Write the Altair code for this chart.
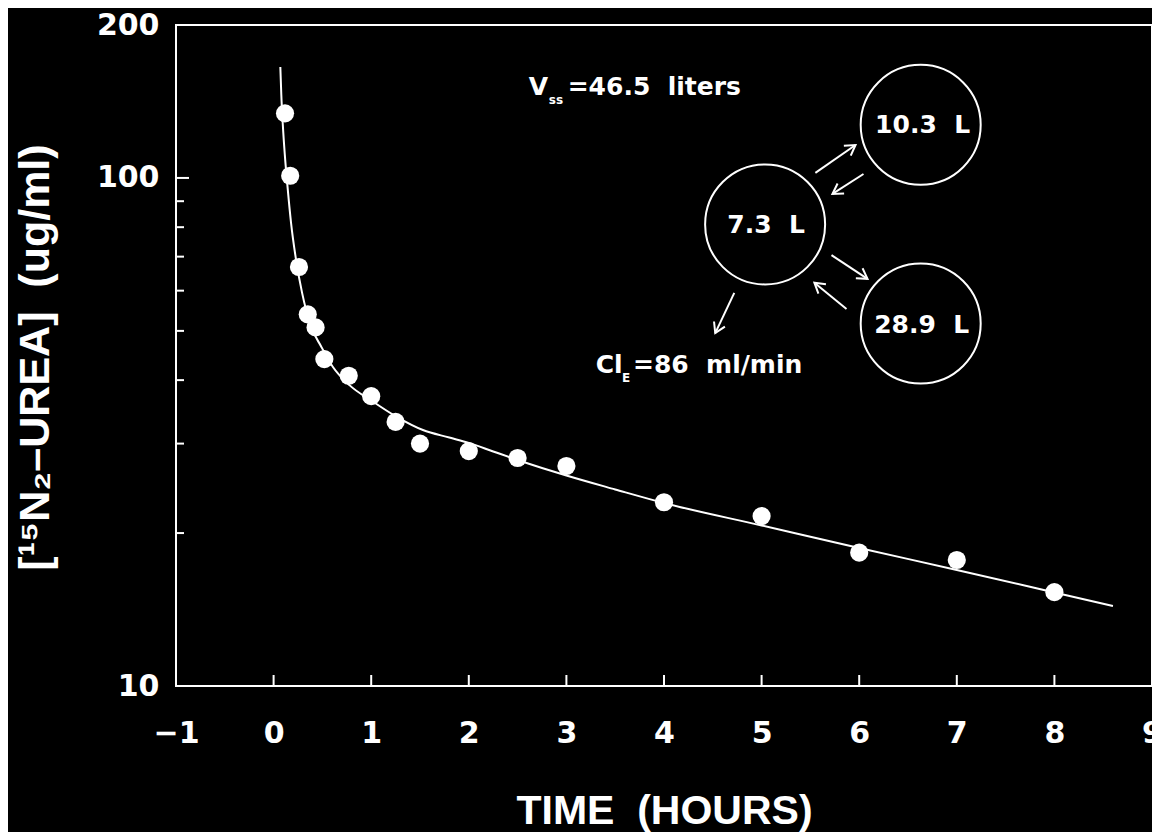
import altair as alt
import pandas as pd

# ---- measured data ----
time_h = [0.117, 0.17, 0.26, 0.35, 0.43, 0.52, 0.77, 1.0, 1.25, 1.5, 2.0, 2.5, 3.0, 4.0, 5.0, 6.0, 7.0, 8.0]
urea = [134, 101, 66.8, 53.9, 50.8, 44.0, 40.8, 37.2, 33.1, 30.0, 29.0, 28.1, 27.1, 23.0, 21.6, 18.3, 17.7, 15.3]

# fitted curve
fit_t = [0.069, 0.079, 0.0945, 0.115, 0.141, 0.179, 0.230, 0.292, 0.384, 0.487, 0.606, 0.777,
         1.016, 1.257, 1.530, 1.80, 2.0, 2.25, 2.5, 2.75, 3.0, 3.5, 4.0, 5.0, 6.0, 7.0, 8.0, 8.6]
fit_c = [165.4, 145.7, 127.2, 111.0, 96.9, 81.5, 69.0, 59.4, 51.0, 46.6, 42.5, 39.1,
         36.3, 33.9, 31.9, 30.84, 30.1, 28.95, 27.85, 26.86, 25.96, 24.37, 22.92, 20.70,
         18.69, 16.92, 15.28, 14.37]

x_tick_vals = [0, 1, 2, 3, 4, 5, 6, 7, 8]
x_label_vals = [-1, 0, 1, 2, 3, 4, 5, 6, 7, 8, 9]
y_label_vals = [10, 100, 200]
y_minor = [20, 30, 40, 50, 60, 70, 80, 90]
y_major = [100]

# compartment diagram (data coordinates)
comp_t = [6.63, 5.036, 6.63]
comp_c = [127.2, 81.0, 51.7]
comp_lbl = ["10.3\u00a0\u00a0L", "7.3\u00a0\u00a0L", "28.9\u00a0\u00a0L"]
comp_lbl_t = [6.65, 5.047, 6.64]
comp_lbl_c = [122.7, 78.0, 49.5]

arr_t = [5.551, 6.044, 5.716, 5.870, 4.720]
arr_c = [102.3, 101.8, 70.5, 55.2, 59.4]
arr_t2 = [5.962, 5.726, 6.085, 5.541, 4.525]
arr_c2 = [116.1, 93.0, 63.3, 62.2, 49.5]
arr_ang = [325, 147, 34, 219, 115]

main_txt = ["V", "=46.5\u00a0\u00a0liters", "Cl", "=86\u00a0\u00a0ml/min"]
main_t = [2.615, 3.013, 3.30, 3.682]
main_c = [145.7, 145.7, 41.3, 41.3]
sub_txt = ["ss", "E"]
sub_t = [2.82, 3.57]
sub_c = [139.9, 39.7]

# ---- chart ----
WHITE = "white"
x_scale = alt.Scale(domain=[-1, 9], nice=False, zero=False)
y_scale = alt.Scale(type="log", domain=[10, 200], nice=False)

x_axis = alt.Axis(values=x_label_vals, format="d", title="TIME\u00a0\u00a0(HOURS)",
                  titleFont="Liberation Sans", titleFontSize=41, titleFontWeight="bold",
                  titleColor=WHITE, titleY=137, titleBaseline="alphabetic",
                  labelFont="DejaVu Sans", labelFontSize=30, labelFontWeight="bold",
                  labelColor=WHITE, labelPadding=32, labelFlush=False, labelOverlap=False,
                  ticks=False, tickSize=0, domain=False, grid=False)
y_axis = alt.Axis(values=y_label_vals, format="d", title="[\u00b9\u2075N\u2082\u2013UREA]\u00a0\u00a0(ug/ml)",
                  titleFont="Liberation Sans", titleFontSize=43, titleFontWeight="bold",
                  titleColor=WHITE, titleAngle=270, titleX=-141, titleY=332,
                  titleBaseline="middle", titleAlign="center",
                  labelFont="DejaVu Sans", labelFontSize=30, labelFontWeight="bold",
                  labelColor=WHITE, labelPadding=17, labelOverlap=False,
                  ticks=False, tickSize=0, domain=False, grid=False)


def X(f):
    return alt.X(f"{f}:Q", scale=x_scale, axis=x_axis)


def Y(f):
    return alt.Y(f"{f}:Q", scale=y_scale, axis=y_axis)


pts = pd.DataFrame({"t": time_h, "c": urea})
fit = pd.DataFrame({"t": fit_t, "c": fit_c})
xt = pd.DataFrame({"t": x_tick_vals})
ymi = pd.DataFrame({"c": y_minor})
yma = pd.DataFrame({"c": y_major})
comp = pd.DataFrame({"t": comp_t, "c": comp_c})
compl = pd.DataFrame({"t": comp_lbl_t, "c": comp_lbl_c, "lbl": comp_lbl})
arr = pd.DataFrame({"t": arr_t, "c": arr_c, "t2": arr_t2, "c2": arr_c2, "ang": arr_ang})
mtxt = pd.DataFrame({"t": main_t, "c": main_c, "lbl": main_txt})
stxt = pd.DataFrame({"t": sub_t, "c": sub_c, "lbl": sub_txt})

line = alt.Chart(fit).mark_line(color=WHITE, strokeWidth=2, interpolate="monotone").encode(x=X("t"), y=Y("c"))
dots = alt.Chart(pts).mark_circle(size=330, color=WHITE, opacity=1).encode(x=X("t"), y=Y("c"))
xticks = alt.Chart(xt).mark_rule(color=WHITE, strokeWidth=2).encode(
    x=X("t"), y=alt.value(661), y2=alt.value(650))
yminor = alt.Chart(ymi).mark_rule(color=WHITE, strokeWidth=2).encode(
    y=Y("c"), x=alt.value(0), x2=alt.value(8))
ymajor = alt.Chart(yma).mark_rule(color=WHITE, strokeWidth=2).encode(
    y=Y("c"), x=alt.value(0), x2=alt.value(13))

circles = alt.Chart(comp).mark_point(shape="circle", size=14400, filled=False, stroke=WHITE,
                                     strokeWidth=2, opacity=1).encode(x=X("t"), y=Y("c"))
clabels = alt.Chart(compl).mark_text(font="DejaVu Sans", fontWeight="bold", fontSize=25, color=WHITE,
                                     align="center", baseline="alphabetic").encode(
    x=X("t"), y=Y("c"), text="lbl:N")
arrows = alt.Chart(arr).mark_rule(color=WHITE, strokeWidth=2).encode(
    x=X("t"), y=Y("c"), x2=alt.X2("t2"), y2=alt.Y2("c2"))
heads = alt.Chart(arr).mark_point(shape="M -1,-0.6 L 0,0 L -1,0.6", size=400, filled=False,
                                  stroke=WHITE, strokeWidth=2, opacity=1).encode(
    x=X("t2"), y=Y("c2"), angle=alt.Angle("ang:Q", scale=None))
mtext = alt.Chart(mtxt).mark_text(font="DejaVu Sans", fontWeight="bold", fontSize=25, color=WHITE,
                                  align="left", baseline="alphabetic").encode(
    x=X("t"), y=Y("c"), text="lbl:N")
stext = alt.Chart(stxt).mark_text(font="DejaVu Sans", fontWeight="bold", fontSize=12, color=WHITE,
                                  align="left", baseline="alphabetic").encode(
    x=X("t"), y=Y("c"), text="lbl:N")

chart = alt.layer(line, dots, xticks, yminor, ymajor, circles, clabels, arrows, heads, mtext, stext).properties(
    width=976, height=661,
    autosize=alt.AutoSizeParams(type="none"),
    padding={"left": 168, "top": 17, "right": 0, "bottom": 146},
    background="black",
).configure_view(stroke=WHITE, strokeWidth=2)

chart.save("out.html", embed_options={"renderer": "svg", "actions": False})
